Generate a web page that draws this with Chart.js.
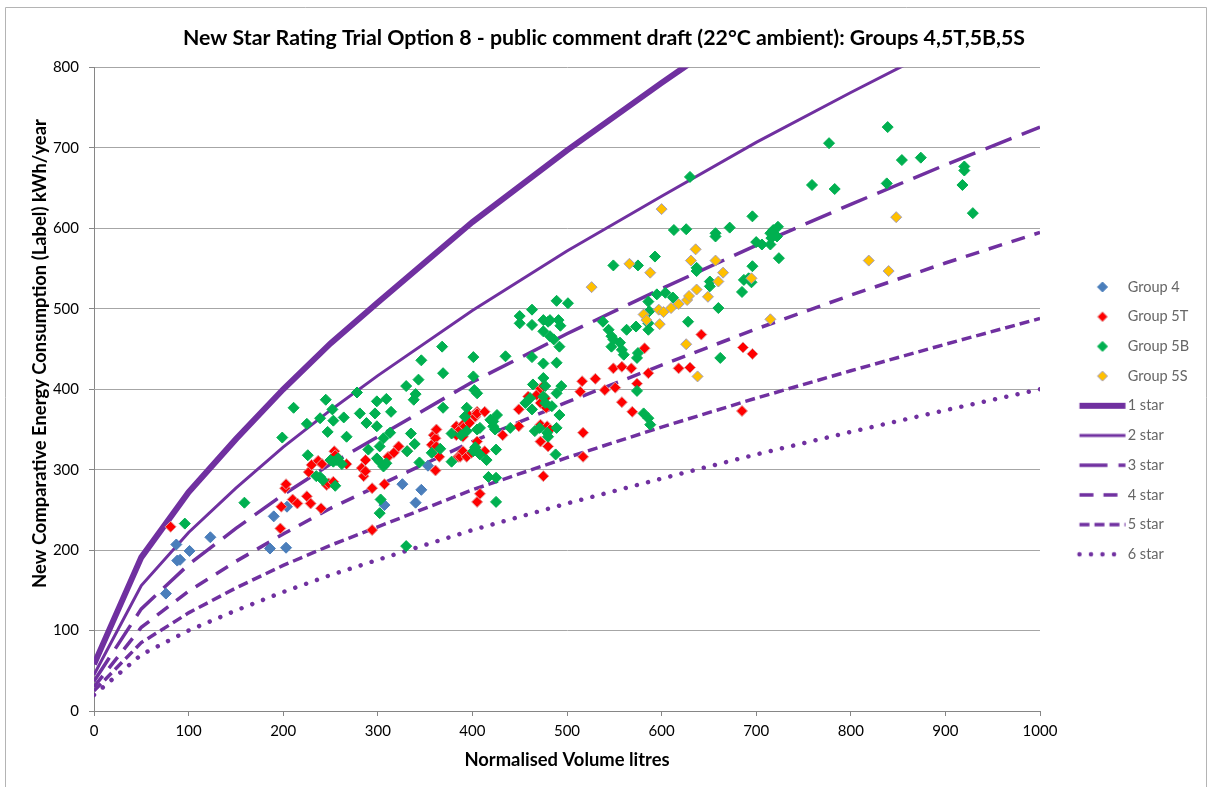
<!DOCTYPE html>
<html>
<head>
<meta charset="utf-8">
<title>New Star Rating Trial Option 8</title>
<script src="https://cdn.jsdelivr.net/npm/chart.js@4.4.0/dist/chart.umd.min.js"></script>
<style>
html, body { margin: 0; padding: 0; background: #ffffff; }
#wrap { width: 1208px; height: 787px; }
</style>
</head>
<body>
<div id="wrap"><canvas id="starChart"></canvas></div>
<script>
// Star rating lines at these volumes
const starVolume = [0, 50, 100, 150, 200, 250, 300, 400, 500, 600, 700, 800, 900, 1000];
const star1 = [58, 191, 272, 338, 400, 457, 508, 608, 697, 781, 862, 938, 1011, 1081];
const star2 = [45, 156, 222, 277, 328, 374, 417, 498, 572, 640, 707, 769, 829, 886];
const star3 = [37, 127, 182, 227, 269, 307, 341, 409, 469, 525, 579, 630, 679, 726];
const star4 = [30, 104, 149, 186, 220, 252, 280, 335, 384, 430, 475, 517, 557, 595];
const star5 = [25, 85, 122, 153, 181, 206, 229, 275, 315, 353, 389, 423, 456, 488];
const star6 = [20, 70, 100, 125, 148, 169, 188, 225, 258, 289, 319, 347, 374, 400];

// Products [normalised volume, kWh/year]
const group4Points = [[76,146],[87,207],[88,187],[91,188],[101,199],[123,216],[186,202],[190,242],[203,203],[204,254],[307,256],[326,282],[340,259],[346,275],[353,305]];
const group5TPoints = [[81,229],[197,227],[198,254],[202,277],[203,282],[210,263],[215,258],[225,267],[227,297],[229,258],[230,306],[237,311],[240,252],[241,307],[246,281],[248,283],[253,285],[254,323],[255,318],[267,307],[283,302],[285,292],[287,298],[287,312],[294,277],[294,225],[307,282],[311,316],[317,321],[322,329],[331,323],[357,331],[359,343],[361,339],[361,299],[362,350],[362,329],[365,316],[383,354],[383,343],[385,316],[387,350],[387,316],[390,356],[390,341],[390,323],[392,354],[394,316],[396,368],[397,358],[399,321],[403,366],[403,327],[405,372],[405,370],[405,335],[405,260],[408,270],[413,372],[413,323],[432,343],[449,375],[449,354],[459,391],[468,393],[472,383],[472,401],[472,356],[472,335],[475,404],[475,292],[477,389],[478,377],[479,354],[480,329],[482,350],[514,397],[516,410],[517,346],[517,316],[530,413],[540,399],[549,426],[551,402],[558,428],[558,384],[568,426],[569,372],[574,407],[582,451],[586,420],[618,426],[630,427],[642,468],[685,373],[686,452],[696,444]];
const group5BPoints = [[96,233],[159,259],[199,340],[211,377],[225,357],[226,318],[235,292],[239,364],[239,291],[242,287],[245,387],[247,347],[250,312],[252,375],[253,361],[253,310],[255,280],[256,312],[258,314],[262,307],[264,365],[267,341],[278,396],[281,370],[288,358],[290,325],[297,370],[299,385],[299,354],[299,314],[302,329],[302,310],[302,246],[303,263],[306,339],[306,304],[309,388],[309,308],[313,346],[314,372],[330,404],[330,205],[331,323],[335,345],[338,387],[339,332],[340,394],[343,412],[344,309],[346,436],[357,321],[366,326],[368,453],[369,420],[369,377],[378,345],[378,310],[388,343],[392,366],[394,377],[394,348],[401,440],[401,416],[401,323],[402,399],[403,328],[405,395],[405,350],[408,352],[408,319],[415,312],[417,291],[419,362],[422,354],[422,360],[424,350],[425,325],[425,290],[425,260],[426,368],[435,441],[440,352],[450,491],[450,482],[456,383],[461,389],[463,499],[463,480],[463,440],[463,375],[464,406],[466,348],[471,352],[475,486],[475,472],[475,432],[475,414],[475,391],[477,404],[477,383],[479,346],[480,484],[480,341],[482,486],[482,466],[484,379],[486,462],[488,319],[489,510],[489,433],[489,395],[489,352],[491,486],[492,453],[492,368],[493,479],[494,404],[501,507],[538,484],[544,474],[547,466],[547,453],[549,554],[549,462],[556,458],[558,449],[560,443],[563,474],[573,478],[574,439],[574,398],[575,554],[575,445],[581,370],[586,509],[586,482],[586,474],[586,364],[587,497],[588,356],[593,565],[595,518],[604,520],[612,514],[613,598],[626,599],[628,484],[630,664],[637,551],[637,547],[651,534],[651,528],[657,590],[657,594],[660,501],[662,439],[672,601],[685,521],[687,536],[692,538],[695,533],[696,615],[696,553],[700,583],[706,580],[715,594],[715,580],[716,588],[718,598],[722,590],[723,602],[724,563],[759,654],[777,706],[783,649],[838,656],[839,726],[854,685],[874,688],[918,654],[920,677],[920,672],[929,619]];
const group5SPoints = [[526,527],[566,556],[581,493],[584,486],[588,545],[597,499],[598,481],[600,624],[602,496],[610,501],[618,506],[626,456],[627,511],[629,516],[631,560],[636,574],[637,524],[638,416],[649,515],[657,560],[660,534],[665,545],[695,538],[715,487],[819,560],[840,547],[848,614]];

const xTicks = [0, 100, 200, 300, 400, 500, 600, 700, 800, 900, 1000];
const yTicks = [0, 100, 200, 300, 400, 500, 600, 700, 800];

const FONT = 'Lato, "Open Sans", sans-serif';
const PURPLE = '#7030A0';

const toXY = pts => pts.map(p => ({ x: p[0], y: p[1] }));
const starXY = vals => vals.map((v, i) => ({ x: starVolume[i], y: v }));

function groupSet(label, pts, fill, border, order) {
return {
label: label,
data: toXY(pts),
pointStyle: 'rectRot',
pointRadius: 5.5,
pointHoverRadius: 5.5,
backgroundColor: fill,
borderColor: border,
pointBorderWidth: 1,
showLine: false,
order: order
};
}

function starSet(label, vals, width, dash, cap, order) {
return {
label: label,
data: starXY(vals),
showLine: true,
borderColor: PURPLE,
backgroundColor: PURPLE,
borderWidth: width,
borderDash: dash,
borderCapStyle: cap,
pointRadius: 0,
pointHoverRadius: 0,
tension: 0,
order: order
};
}

// legend swatches drawn on small canvases so markers and line samples line up like the original
const SW_W = 80, SW_H = 16, SW_SHIFT = 14.6;
function markerSwatch(fill, border) {
const c = document.createElement('canvas');
c.width = SW_W; c.height = SW_H;
const g = c.getContext('2d');
const cx = SW_W / 2 + SW_SHIFT, cy = SW_H / 2, r = 5;
g.beginPath();
g.moveTo(cx, cy - r); g.lineTo(cx + r, cy); g.lineTo(cx, cy + r); g.lineTo(cx - r, cy);
g.closePath();
g.fillStyle = fill; g.fill();
g.strokeStyle = border; g.lineWidth = 1; g.stroke();
return c;
}
function lineSwatch(width, dash, cap) {
const c = document.createElement('canvas');
c.width = SW_W; c.height = SW_H;
const g = c.getContext('2d');
g.strokeStyle = PURPLE;
g.lineWidth = width;
g.lineCap = cap;
g.setLineDash(dash);
g.beginPath();
g.moveTo(SW_W / 2 + SW_SHIFT - 23, SW_H / 2);
g.lineTo(SW_W / 2 + SW_SHIFT + 23, SW_H / 2);
g.stroke();
return c;
}

const datasets = [
groupSet('Group 4', group4Points, '#4A7EBB', '#4A7EBB', 4),
groupSet('Group 5T', group5TPoints, '#FF0000', '#E39B9B', 3),
groupSet('Group 5B', group5BPoints, '#00B050', '#00B050', 2),
groupSet('Group 5S', group5SPoints, '#FFC000', '#A39DBE', 1),
starSet('1 star', star1, 6, [], 'butt', 5),
starSet('2 star', star2, 3, [], 'butt', 6),
starSet('3 star', star3, 3.5, [28, 11], 'butt', 7),
starSet('4 star', star4, 3.5, [14, 10], 'butt', 8),
starSet('5 star', star5, 3.5, [10, 5], 'butt', 9),
starSet('6 star', star6, 4.5, [0.01, 11.5], 'round', 10)
];

const legendSwatches = [
markerSwatch('#4A7EBB', '#4A7EBB'),
markerSwatch('#FF0000', '#E39B9B'),
markerSwatch('#00B050', '#00B050'),
markerSwatch('#FFC000', '#A39DBE'),
lineSwatch(6, [], 'butt'),
lineSwatch(3, [], 'butt'),
lineSwatch(3.5, [28, 11], 'butt'),
lineSwatch(3.5, [14, 10], 'butt'),
lineSwatch(3.5, [10, 5], 'butt'),
lineSwatch(4.5, [0.01, 11.5], 'round')
];

const framePlugin = {
id: 'frame',
beforeDraw(chart) {
const c = chart.ctx;
c.save();
c.fillStyle = '#ffffff';
c.fillRect(0, 0, chart.width, chart.height);
c.strokeStyle = '#b4b4b4';
c.lineWidth = 1;
c.beginPath();
c.moveTo(5.5, chart.height);
c.lineTo(5.5, 7.5);
c.lineTo(chart.width - 1.5, 7.5);
c.lineTo(chart.width - 1.5, chart.height);
c.stroke();
c.restore();
}
};

// fixed legend width so the plot area ends where the original's does
const legendWidthPlugin = {
id: 'legendWidth',
beforeInit(chart) {
const fit = chart.legend.fit;
chart.legend.fit = function () {
fit.call(this);
this.width = 168;
};
}
};

// leading spaces push the rotated title up to where the original sits
const Y_TITLE = ' '.repeat(16) + 'New Comparative Energy Consumption (Label) kWh/year';

new Chart(document.getElementById('starChart'), {
type: 'scatter',
data: { datasets: datasets },
options: {
responsive: true,
maintainAspectRatio: false,
animation: false,
events: [],
layout: { padding: 0 },
plugins: {
title: {
display: true,
text: 'New Star Rating Trial Option 8 - public comment draft (22°C ambient): Groups 4,5T,5B,5S',
color: '#000000',
font: { family: FONT, size: 21.3, weight: 'bold', lineHeight: 1.2 },
padding: { top: 25, bottom: 17 }
},
legend: {
position: 'right',
title: { display: true, text: ' ', font: { size: 10, lineHeight: 1.2 }, padding: { top: 21.3, bottom: 21 } },
labels: {
usePointStyle: true,
pointStyleWidth: 65.3,
padding: 15.2,
color: '#000000',
font: { family: FONT, size: 14.5 },
generateLabels: chart => chart.data.datasets.map((ds, i) => ({
text: ds.label,
pointStyle: legendSwatches[i],
fillStyle: ds.backgroundColor,
strokeStyle: ds.borderColor,
lineWidth: 0,
hidden: false,
datasetIndex: i
}))
}
},
tooltip: { enabled: false }
},
scales: {
x: {
type: 'linear',
min: 0,
max: 1000,
afterFit: s => { s.height = 76; },
afterBuildTicks: s => { s.ticks = xTicks.map(v => ({ value: v })); },
ticks: { color: '#000000', padding: 6, font: { family: FONT, size: 15 }, callback: v => String(v) },
grid: { drawOnChartArea: false, drawTicks: true, tickLength: 5, tickColor: '#868686' },
border: { display: true, color: '#868686', width: 1 },
title: {
display: true,
text: 'Normalised Volume litres',
color: '#000000',
font: { family: FONT, size: 18.4, weight: 'bold', lineHeight: 1.2 },
padding: { top: 0, bottom: 16 }
}
},
y: {
type: 'linear',
min: 0,
max: 800,
afterFit: s => { s.width = 94; },
afterBuildTicks: s => { s.ticks = yTicks.map(v => ({ value: v })); },
ticks: { color: '#000000', padding: 10, font: { family: FONT, size: 15 }, callback: v => String(v) },
grid: { color: '#A6A6A6', lineWidth: 1, drawTicks: true, tickLength: 5, tickColor: '#868686' },
border: { display: true, color: '#868686', width: 1 },
title: {
display: true,
text: Y_TITLE,
color: '#000000',
font: { family: FONT, size: 18.4, weight: 'bold', lineHeight: 1.2 },
padding: { top: 29, bottom: 0 }
}
}
}
},
plugins: [framePlugin, legendWidthPlugin]
});
</script>
</body>
</html>
